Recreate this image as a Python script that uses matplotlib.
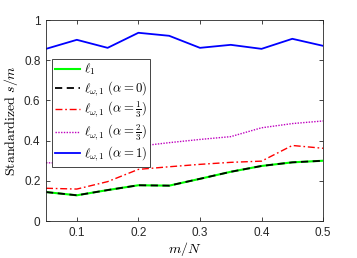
import matplotlib
matplotlib.use("Agg")
import matplotlib.pyplot as plt

plt.rcParams['mathtext.fontset'] = 'cm'
plt.rcParams['font.family'] = ['Liberation Sans', 'DejaVu Sans']

x = [0.05, 0.1, 0.15, 0.2, 0.25, 0.3, 0.35, 0.4, 0.45, 0.5]
l1 = [0.144, 0.128, 0.154, 0.178, 0.176, 0.21, 0.245, 0.274, 0.292, 0.30]
a0 = [0.144, 0.128, 0.154, 0.178, 0.176, 0.21, 0.245, 0.274, 0.292, 0.30]
a13 = [0.163, 0.159, 0.196, 0.257, 0.27, 0.282, 0.292, 0.298, 0.376, 0.362]
a23 = [0.29, 0.287, 0.375, 0.372, 0.39, 0.406, 0.42, 0.464, 0.485, 0.498]
a1 = [0.857, 0.902, 0.862, 0.937, 0.922, 0.862, 0.877, 0.857, 0.907, 0.872]

labels = [r'$\ell_1$', r'$\ell_{\omega,1}\ (\alpha=0)$', r'$\ell_{\omega,1}\ (\alpha=\frac{1}{3})$',
          r'$\ell_{\omega,1}\ (\alpha=\frac{2}{3})$', r'$\ell_{\omega,1}\ (\alpha=1)$']

fig = plt.figure(figsize=(3.57, 2.58), dpi=100)
ax = fig.add_axes([0.129, 0.1434, 0.776, 0.7786])
ax.plot(x, l1, color=(0, 1, 0), lw=1.5, ls='-', label=labels[0])
ax.plot(x, a0, color='k', lw=1.3, ls=(0, (4, 2.5)), label=labels[1])
ax.plot(x, a13, color='r', lw=1.0, ls=(0, (5, 2, 1.2, 2)), label=labels[2])
ax.plot(x, a23, color='m', lw=1.0, ls=(0, (1, 1)), label=labels[3])
ax.plot(x, a1, color='b', lw=1.3, ls='-', label=labels[4])

ax.set_xlim(0.05, 0.5)
ax.set_ylim(0, 1)
ax.set_xticks([0.1, 0.2, 0.3, 0.4, 0.5])
ax.set_yticks([0, 0.2, 0.4, 0.6, 0.8, 1])
ax.set_yticklabels(['0', '0.2', '0.4', '0.6', '0.8', '1'])
ax.tick_params(direction='in', length=3, width=0.6, labelsize=8.5, colors='#262626',
               top=True, right=True, pad=4)
for s in ax.spines.values():
    s.set_linewidth(0.6)
    s.set_color('#262626')
ax.set_xlabel(r'$m/N$', fontsize=10, labelpad=1)
ax.set_ylabel(r'$\mathrm{Standardized}\ s/m$', fontsize=10, labelpad=3)

leg = ax.legend(loc='upper left', bbox_to_anchor=(0.02, 0.806), fontsize=9.2,
                handlelength=2.0, handletextpad=0.25, borderpad=0.25, labelspacing=0.15,
                fancybox=False, edgecolor='#262626', framealpha=1, borderaxespad=0)
leg.get_frame().set_linewidth(0.6)

fig.savefig('out.png', dpi=100)
